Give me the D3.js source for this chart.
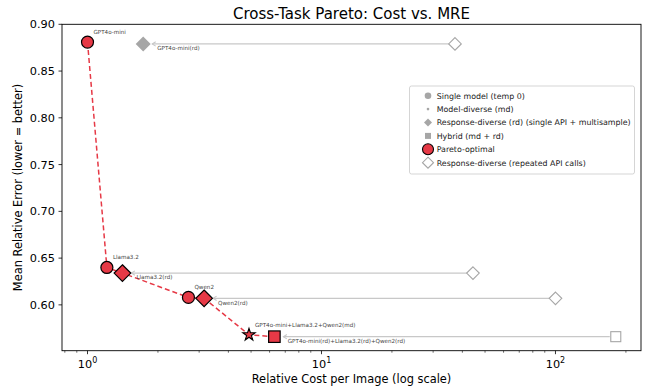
<!DOCTYPE html>
<html>
<head>
<meta charset="utf-8">
<script src="https://cdn.jsdelivr.net/npm/d3@7"></script>
<style>
  body { margin: 0; background: #fff; }
  svg { display: block; font-family: "DejaVu Sans", sans-serif; }
</style>
</head>
<body>
<div id="chart"></div>
<script>
// single models (temp 0)
const singleNames = ["GPT4o-mini", "Llama3.2", "Qwen2"];
const singleCost = [1.0, 1.21, 2.70];
const singleMre = [0.881, 0.640, 0.608];

// response-diverse (single API + multisample) and repeated API call cost
const rdNames = ["GPT4o-mini(rd)", "Llama3.2(rd)", "Qwen2(rd)"];
const rdCost = [1.73, 1.41, 3.15];
const rdMre = [0.879, 0.634, 0.607];
const rdRepeatCost = [37.2, 44.4, 100];
const rdPareto = [false, true, true];

// model-diverse and hybrid
const mdName = "GPT4o-mini+Llama3.2+Qwen2(md)";
const mdCost = 4.90;
const mdMre = 0.568;
const hybridName = "GPT4o-mini(rd)+Llama3.2(rd)+Qwen2(rd)";
const hybridCost = 6.29;
const hybridMre = 0.566;
const hybridRepeatCost = 181;

const yTicks = [0.60, 0.65, 0.70, 0.75, 0.80, 0.85, 0.90];
const legendLabels = [
  "Single model (temp 0)",
  "Model-diverse (md)",
  "Response-diverse (rd) (single API + multisample)",
  "Hybrid (md + rd)",
  "Pareto-optimal",
  "Response-diverse (repeated API calls)"
];

const width = 646, height = 392;
const margin = { top: 24.3, right: 5, bottom: 41.3, left: 62 };
const red = "#e63946";
const grey = "#a6a6a6";
const lineGrey = "#c8c8c8";
const labelColor = "#444";

const svg = d3.select("#chart").append("svg")
  .attr("width", width).attr("height", height)
  .attr("viewBox", `0 0 ${width} ${height}`);

const x = d3.scaleLog().domain([0.778, 232]).range([margin.left, width - margin.right]);
const y = d3.scaleLinear().domain([0.551, 0.90]).range([height - margin.bottom, margin.top]);

const x0 = margin.left, x1 = width - margin.right;
const y0 = height - margin.bottom, y1 = margin.top;

// title
svg.append("text")
  .attr("x", (x0 + x1) / 2).attr("y", 19)
  .attr("text-anchor", "middle").attr("font-size", 15)
  .text("Cross-Task Pareto: Cost vs. MRE");

// x axis ticks (log)
const majors = [1, 10, 100];
const minors = [];
[0.1, 1, 10, 100].forEach((d) => {
  for (let k = 2; k <= 9; k++) {
    const v = d * k;
    if (v >= x.domain()[0] && v <= x.domain()[1]) minors.push(v);
  }
});
const xAxisG = svg.append("g");
xAxisG.selectAll("line.minor").data(minors).enter().append("line")
  .attr("x1", (d) => x(d)).attr("x2", (d) => x(d))
  .attr("y1", y0).attr("y2", y0 + 2)
  .attr("stroke", "#000").attr("stroke-width", 0.6);
xAxisG.selectAll("line.major").data(majors).enter().append("line")
  .attr("x1", (d) => x(d)).attr("x2", (d) => x(d))
  .attr("y1", y0).attr("y2", y0 + 3.5)
  .attr("stroke", "#000").attr("stroke-width", 0.8);
const xt = xAxisG.selectAll("text").data(majors).enter().append("text")
  .attr("x", (d) => x(d)).attr("y", y0 + 17)
  .attr("text-anchor", "middle").attr("font-size", 11.3);
xt.append("tspan").text("10");
xt.append("tspan").attr("dy", -4.5).attr("font-size", 8).text((d) => Math.round(Math.log10(d)));

// y axis
const yAxisG = svg.append("g");
yAxisG.selectAll("line").data(yTicks).enter().append("line")
  .attr("x1", x0 - 3.5).attr("x2", x0)
  .attr("y1", (d) => y(d)).attr("y2", (d) => y(d))
  .attr("stroke", "#000").attr("stroke-width", 0.8);
yAxisG.selectAll("text").data(yTicks).enter().append("text")
  .attr("x", x0 - 7).attr("y", (d) => y(d) + 4)
  .attr("text-anchor", "end").attr("font-size", 11.3)
  .text((d) => d3.format(".2f")(d));

// axis labels
svg.append("text")
  .attr("x", (x0 + x1) / 2).attr("y", 383)
  .attr("text-anchor", "middle").attr("font-size", 11.4)
  .text("Relative Cost per Image (log scale)");
svg.append("text")
  .attr("transform", `translate(22, ${(y0 + y1) / 2}) rotate(-90)`)
  .attr("text-anchor", "middle").attr("font-size", 11.4)
  .text("Mean Relative Error (lower = better)");

const plot = svg.append("g");

// marker helpers
function diamond(g, cx, cy, r, fill, stroke, sw) {
  return g.append("path")
    .attr("d", `M${cx},${cy - r}L${cx + r},${cy}L${cx},${cy + r}L${cx - r},${cy}Z`)
    .attr("fill", fill).attr("stroke", stroke).attr("stroke-width", sw);
}
function square(g, cx, cy, s, fill, stroke, sw) {
  return g.append("rect")
    .attr("x", cx - s / 2).attr("y", cy - s / 2).attr("width", s).attr("height", s)
    .attr("fill", fill).attr("stroke", stroke).attr("stroke-width", sw);
}
function star(g, cx, cy, r, fill, stroke, sw) {
  const pts = [];
  for (let i = 0; i < 10; i++) {
    const a = -Math.PI / 2 + i * Math.PI / 5;
    const rr = i % 2 === 0 ? r : r * 0.382;
    pts.push([cx + rr * Math.cos(a), cy + rr * Math.sin(a)]);
  }
  return g.append("path").attr("d", "M" + pts.join("L") + "Z")
    .attr("fill", fill).attr("stroke", stroke).attr("stroke-width", sw);
}
function arrow(g, fromX, toX, yy) {
  const tip = toX + 9;
  g.append("line")
    .attr("x1", fromX - 6).attr("x2", tip)
    .attr("y1", yy).attr("y2", yy)
    .attr("stroke", lineGrey).attr("stroke-width", 1.2);
  g.append("path")
    .attr("d", `M${tip + 3.5},${yy - 2.2}L${tip},${yy}L${tip + 3.5},${yy + 2.2}`)
    .attr("fill", "none").attr("stroke", lineGrey).attr("stroke-width", 1.1);
}
function label(g, cx, cy, dx, dy, txt) {
  g.append("text")
    .attr("x", cx + dx).attr("y", cy + dy)
    .attr("font-size", 5.6).attr("fill", labelColor)
    .text(txt);
}

// repeated API call arrows + hollow markers
rdNames.forEach((n, i) => {
  arrow(plot, x(rdRepeatCost[i]), x(rdCost[i]), y(rdMre[i]));
  diamond(plot, x(rdRepeatCost[i]), y(rdMre[i]), 6.3, "#fff", grey, 1.1);
});
arrow(plot, x(hybridRepeatCost), x(hybridCost), y(hybridMre));
square(plot, x(hybridRepeatCost), y(hybridMre), 10, "#fff", grey, 1.1);

// pareto frontier
const pareto = [
  [singleCost[0], singleMre[0]],
  [singleCost[1], singleMre[1]],
  [rdCost[1], rdMre[1]],
  [singleCost[2], singleMre[2]],
  [rdCost[2], rdMre[2]],
  [mdCost, mdMre],
  [hybridCost, hybridMre]
];
plot.append("path")
  .datum(pareto)
  .attr("d", d3.line().x((d) => x(d[0])).y((d) => y(d[1])))
  .attr("fill", "none").attr("stroke", red).attr("stroke-width", 1.5)
  .attr("stroke-dasharray", "5,3");

// rd markers
rdNames.forEach((n, i) => {
  const cx = x(rdCost[i]), cy = y(rdMre[i]);
  if (rdPareto[i]) diamond(plot, cx, cy, 8.3, red, "#000", 1.2);
  else diamond(plot, cx, cy, 7.5, grey, "none", 0);
  label(plot, cx, cy, 14, 6.3, n);
});

// single models
singleNames.forEach((n, i) => {
  const cx = x(singleCost[i]), cy = y(singleMre[i]);
  plot.append("circle").attr("cx", cx).attr("cy", cy).attr("r", 6)
    .attr("fill", red).attr("stroke", "#000").attr("stroke-width", 1.2);
  label(plot, cx, cy, 6, -8.5, n);
});

// md star
star(plot, x(mdCost), y(mdMre), 6.5, red, "#000", 1.1);
label(plot, x(mdCost), y(mdMre), 6, -8.3, mdName);

// hybrid square
square(plot, x(hybridCost), y(hybridMre), 11.5, red, "#000", 1.2);
label(plot, x(hybridCost), y(hybridMre), 13.4, 6, hybridName);

// frame
svg.append("rect")
  .attr("x", x0).attr("y", y1).attr("width", x1 - x0).attr("height", y0 - y1)
  .attr("fill", "none").attr("stroke", "#000").attr("stroke-width", 0.9);

// legend
const lg = svg.append("g");
lg.append("rect")
  .attr("x", 409.5).attr("y", 86).attr("width", 225).attr("height", 88).attr("rx", 2)
  .attr("fill", "#fff").attr("fill-opacity", 0.8)
  .attr("stroke", "#d0d0d0").attr("stroke-width", 0.9);
const rowY = (i) => 95.7 + i * 13.4;
const mx = 428;
lg.append("circle").attr("cx", mx).attr("cy", rowY(0)).attr("r", 3.3).attr("fill", grey);
lg.append("circle").attr("cx", mx).attr("cy", rowY(1)).attr("r", 1.3).attr("fill", grey);
diamond(lg, mx, rowY(2), 4, grey, "none", 0);
square(lg, mx, rowY(3), 6, grey, "none", 0);
lg.append("circle").attr("cx", mx).attr("cy", rowY(4)).attr("r", 5.5)
  .attr("fill", red).attr("stroke", "#000").attr("stroke-width", 1.1);
diamond(lg, mx, rowY(5), 5.5, "#fff", grey, 1.1);
lg.selectAll("text.leg").data(legendLabels).enter().append("text")
  .attr("x", 436.7).attr("y", (d, i) => rowY(i) + 2.9)
  .attr("font-size", 7.9).attr("fill", "#222")
  .text((d) => d);
</script>
</body>
</html>
